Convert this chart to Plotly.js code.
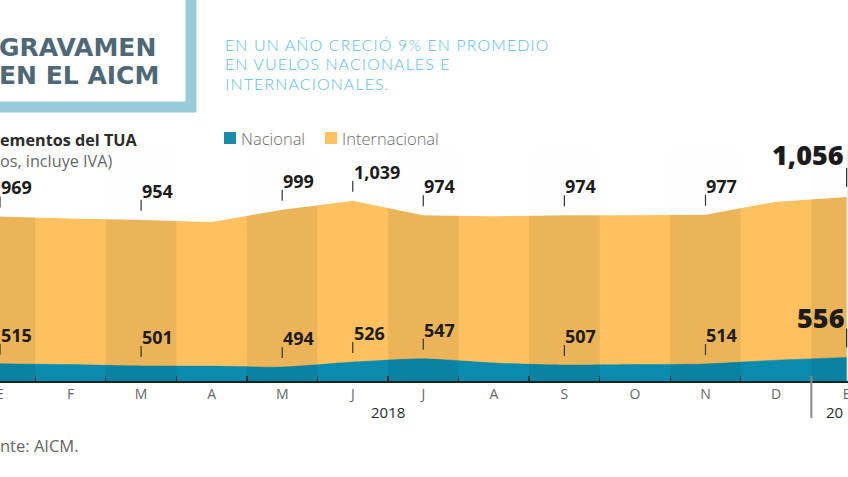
<!DOCTYPE html>
<html>
<head>
<meta charset="utf-8">
<script src="https://cdn.plot.ly/plotly-3.0.1.min.js"></script>
<style>
  html, body { margin: 0; padding: 0; background: #ffffff; overflow: hidden; }
  #chart { width: 848px; height: 477px; }
</style>
</head>
<body>
<div id="chart"></div>
<script>
// ---- data ----
const months = ["E", "F", "M", "A", "M", "J", "J", "A", "S", "O", "N", "D", "E"];
const monthIndex = [0, 1, 2, 3, 4, 5, 6, 7, 8, 9, 10, 11, 12];
const internacional = [969, 960, 954, 945, 999, 1039, 974, 970, 974, 975, 977, 1035, 1056];
const nacional = [515, 510, 501, 500, 494, 526, 547, 520, 507, 510, 514, 538, 556];
// which months carry a value label
const labeledIdx = [0, 2, 4, 5, 6, 8, 10, 12];
const years = [{ text: "2018", pos: 5.5, anchor: "center" }, { text: "20", pos: 11.68, anchor: "left" }];
const deckLines = ["EN UN AÑO CRECIÓ 9% EN PROMEDIO", "EN VUELOS NACIONALES E", "INTERNACIONALES."];

// ---- styling ----
const ORANGE = "#fdc25f";
const TEAL = "#0b8cae";
const INTL_RANGE = [238, 1931];
const NAC_RANGE = [404, 2862];
const PLOT_H = 381, W = 848;
const TRACK = 1.1; // letter spacing of the deck, px
const py = px => (PLOT_H - px) / PLOT_H;   // pixel row -> paper y
const pxX = px => px / W;                  // pixel col -> paper x

const fmt = v => v.toLocaleString("en-US");

const traces = [
  {
    x: monthIndex, y: internacional, type: "scatter", mode: "lines",
    name: "Internacional", fill: "tozeroy", fillcolor: ORANGE,
    line: { color: ORANGE, width: 0.5, shape: "linear" },
    hoverinfo: "skip", showlegend: false, yaxis: "y"
  },
  {
    x: monthIndex, y: nacional, type: "scatter", mode: "lines",
    name: "Nacional", fill: "tozeroy", fillcolor: TEAL,
    line: { color: TEAL, width: 0.5, shape: "spline", smoothing: 0.6 },
    hoverinfo: "skip", showlegend: false, yaxis: "y2"
  }
];

const shapes = [];
// alternating darker month columns
monthIndex.filter(i => i % 2 === 0).forEach(i => {
  shapes.push({
    type: "rect", xref: "x", yref: "paper", x0: i - 0.5, x1: i + 0.5,
    y0: 0, y1: py(150), fillcolor: "rgba(0,0,0,0.07)", line: { width: 0 }, layer: "above"
  });
});
// light cap above the international area (keeps the columns faint in the white zone)
let cap = `M 0,${INTL_RANGE[1]} `;
monthIndex.forEach((m, k) => { cap += `L ${m},${internacional[k]} `; });
cap += `L ${monthIndex[monthIndex.length - 1]},${INTL_RANGE[1]} Z`;
shapes.push({
  type: "path", xref: "x", yref: "y", path: cap,
  fillcolor: "rgba(255,255,255,0.93)", line: { width: 0 }, layer: "above"
});
// year divider
shapes.push({
  type: "line", xref: "x", yref: "paper", x0: 11.5, x1: 11.5, y0: py(418), y1: py(376),
  line: { color: "#8a8a8a", width: 2 }
});
// title frame
shapes.push({
  type: "rect", xref: "paper", yref: "paper", x0: -0.3, x1: pxX(191), y0: py(107), y1: 1.3,
  line: { color: "#97cbd8", width: 11 }, fillcolor: "rgba(0,0,0,0)"
});
// legend swatches
shapes.push({ type: "rect", xref: "paper", yref: "paper", x0: pxX(224), x1: pxX(236), y0: py(144), y1: py(132),
  fillcolor: "#1a8aaa", line: { width: 0 } });
shapes.push({ type: "rect", xref: "paper", yref: "paper", x0: pxX(325), x1: pxX(337), y0: py(144), y1: py(132),
  fillcolor: "#fdc25f", line: { width: 0 } });

const annotations = [];
// value labels + little ticks
labeledIdx.forEach(i => {
  const last = i === monthIndex[monthIndex.length - 1];
  const pairs = [
    { v: internacional[i], yref: "y" },
    { v: nacional[i], yref: "y2" }
  ];
  pairs.forEach((p, k) => {
    shapes.push({
      type: "line", xref: "x", yref: p.yref, xsizemode: "scaled", ysizemode: "pixel",
      yanchor: p.v, x0: i, x1: i, y0: last ? 10 : 9, y1: last ? 29 : 20,
      line: { color: "#333333", width: 1.2 }
    });
    annotations.push({
      xref: "x", yref: p.yref, x: i, y: p.v, text: fmt(p.v), showarrow: false,
      xanchor: last ? "right" : "left", yanchor: "bottom",
      xshift: -1, yshift: last ? (k === 0 ? 22 : 19) : 15,
      font: { family: "Open Sans, sans-serif", size: last ? 27 : 18, color: "#1c1c1c", weight: last ? 800 : 700 }
    });
  });
});
// years
years.forEach(y => annotations.push({
  xref: "x", yref: "paper", x: y.pos, y: py(412), text: y.text, showarrow: false,
  xanchor: y.anchor, yanchor: "middle",
  font: { family: "Open Sans, sans-serif", size: 15, color: "#2a2a2a" }
}));
// headline
annotations.push({ xref: "paper", yref: "paper", x: 0, y: py(47), text: "GRAVAMEN", showarrow: false,
  xanchor: "left", yanchor: "middle", xshift: -3,
  font: { family: "DejaVu Sans, sans-serif", size: 25, color: "#4e6876", weight: 700 } });
annotations.push({ xref: "paper", yref: "paper", x: 0, y: py(75), text: "EN EL AICM", showarrow: false,
  xanchor: "left", yanchor: "middle", xshift: -3,
  font: { family: "DejaVu Sans, sans-serif", size: 25, color: "#4e6876", weight: 700 } });
// deck (three lines, tight leading; shifted to compensate the centred tracking)
deckLines.forEach((t, k) => {
  annotations.push({ xref: "paper", yref: "paper", x: pxX(222), y: py(44 + k * 19.6), text: t, showarrow: false,
    xanchor: "left", yanchor: "middle", xshift: (t.length * TRACK) / 2 + 1,
    font: { family: "Lato, sans-serif", size: 16, color: "#56bedb", weight: 300 } });
});
// chart title / unit (visible part only, the picture is cropped at the left)
annotations.push({ xref: "paper", yref: "paper", x: 0, y: py(127), align: "left",
  text: "<b>ementos del TUA</b><br><span style=\"color:#666666\">os, incluye IVA)</span>", showarrow: false,
  xanchor: "left", yanchor: "top", xshift: -2,
  font: { family: "Open Sans, sans-serif", size: 16.2, color: "#2b2b2b", weight: 400 } });
// legend text
annotations.push({ xref: "paper", yref: "paper", x: pxX(239), y: py(138), text: "Nacional", showarrow: false,
  xanchor: "left", yanchor: "middle",
  font: { family: "Open Sans, sans-serif", size: 16.5, color: "#6a6a6a", weight: 300 } });
annotations.push({ xref: "paper", yref: "paper", x: pxX(340), y: py(138), text: "Internacional", showarrow: false,
  xanchor: "left", yanchor: "middle",
  font: { family: "Open Sans, sans-serif", size: 16.5, color: "#6a6a6a", weight: 300 } });
// source
annotations.push({ xref: "paper", yref: "paper", x: 0, y: py(445), text: "nte: AICM.", showarrow: false,
  xanchor: "left", yanchor: "middle", xshift: -2,
  font: { family: "Open Sans, sans-serif", size: 16.5, color: "#666666", weight: 400 } });

const layout = {
  width: 848, height: 477,
  margin: { l: 0, r: 0, t: 0, b: 96, pad: 0 },
  paper_bgcolor: "#ffffff", plot_bgcolor: "#ffffff",
  showlegend: false,
  xaxis: {
    range: [0, 12.02], tickmode: "array", tickvals: monthIndex, ticktext: months,
    ticks: "", showgrid: false, zeroline: false, fixedrange: true,
    showline: true, linecolor: "#222222", linewidth: 1.5,
    ticklabeloverflow: "allow",
    tickfont: { family: "Open Sans, sans-serif", size: 14, color: "#666666", weight: 400 },
    minor: { tickmode: "array", tickvals: monthIndex.slice(0, 11).map(m => m + 0.5),
      ticks: "inside", ticklen: 5, tickwidth: 1.3, tickcolor: "#333333", showgrid: false }
  },
  yaxis: { range: INTL_RANGE, visible: false, fixedrange: true },
  yaxis2: { range: NAC_RANGE, visible: false, overlaying: "y", fixedrange: true },
  shapes: shapes,
  annotations: annotations
};

Plotly.newPlot("chart", traces, layout, { displayModeBar: false, staticPlot: true }).then(() => {
  // the deck in the original is set with open tracking
  document.querySelectorAll("#chart .annotation-text").forEach(el => {
    if (deckLines.includes(el.textContent)) el.style.letterSpacing = TRACK + "px";
  });
});
</script>
</body>
</html>
